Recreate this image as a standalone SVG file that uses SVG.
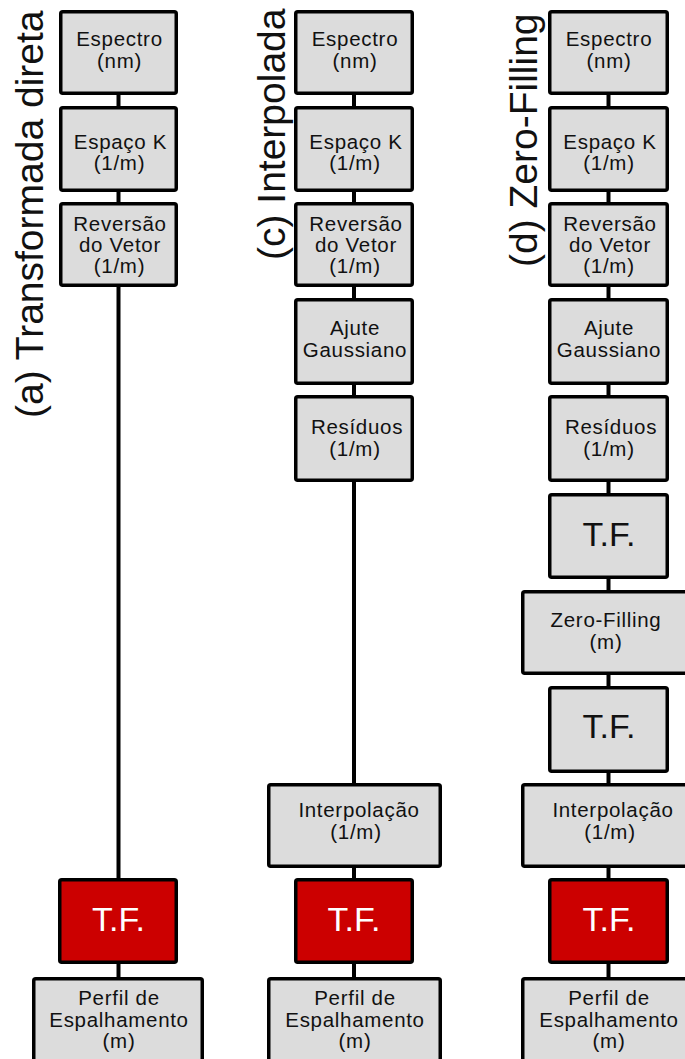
<svg xmlns="http://www.w3.org/2000/svg" width="685" height="1059" viewBox="0 0 685 1059">
<style>
.box{fill:#dcdcdc;stroke:#000;stroke-width:3.5}
.red{fill:#cc0000;stroke:#000;stroke-width:3.5}
.t{font-family:"Liberation Sans",Arial,sans-serif;font-size:20.5px;letter-spacing:0.7px;text-anchor:middle;fill:#111}
.tf{font-family:"Liberation Sans",Arial,sans-serif;font-size:34px;text-anchor:middle;fill:#111}
.tfw{font-family:"Liberation Sans",Arial,sans-serif;font-size:34px;text-anchor:middle;fill:#fff}
.title{font-family:"Liberation Sans",Arial,sans-serif;font-size:39px;fill:#111}
.c{stroke:#000;stroke-width:4;fill:none}
</style>
<rect width="685" height="1059" fill="#fff"/>
<g id="titles">
<text class="title" transform="translate(43,418) rotate(-90)">(a) Transformada direta</text>
<text class="title" transform="translate(285,260) rotate(-90)">(c) Interpolada</text>
<text class="title" transform="translate(537,267) rotate(-90)">(d) Zero-Filling</text>
</g>
<g id="connectors">
<line class="c" x1="118.5" y1="93" x2="118.5" y2="108"/>
<line class="c" x1="118.5" y1="190" x2="118.5" y2="204"/>
<line class="c" x1="118.5" y1="285" x2="118.5" y2="880"/>
<line class="c" x1="118.5" y1="962" x2="118.5" y2="979"/>
<line class="c" x1="354" y1="93" x2="354" y2="108"/>
<line class="c" x1="354" y1="190" x2="354" y2="204"/>
<line class="c" x1="354" y1="285" x2="354" y2="300"/>
<line class="c" x1="354" y1="383" x2="354" y2="397"/>
<line class="c" x1="354" y1="480" x2="354" y2="785"/>
<line class="c" x1="354" y1="866" x2="354" y2="880"/>
<line class="c" x1="354" y1="962" x2="354" y2="979"/>
<line class="c" x1="608.5" y1="93" x2="608.5" y2="108"/>
<line class="c" x1="608.5" y1="190" x2="608.5" y2="204"/>
<line class="c" x1="608.5" y1="285" x2="608.5" y2="300"/>
<line class="c" x1="608.5" y1="383" x2="608.5" y2="397"/>
<line class="c" x1="608.5" y1="480" x2="608.5" y2="495"/>
<line class="c" x1="608.5" y1="577" x2="608.5" y2="592"/>
<line class="c" x1="608.5" y1="673" x2="608.5" y2="688"/>
<line class="c" x1="608.5" y1="771" x2="608.5" y2="785"/>
<line class="c" x1="608.5" y1="866" x2="608.5" y2="880"/>
<line class="c" x1="608.5" y1="962" x2="608.5" y2="979"/>
</g>
<!-- Column a -->
<g id="a-espectro"><rect class="box" x="60.75" y="11.75" width="115.5" height="81.5" rx="2"/><text class="t" x="119.5" y="46">Espectro</text><text class="t" x="119.5" y="68">(nm)</text></g>
<g id="a-espacok"><rect class="box" x="60.75" y="107.75" width="115.5" height="82.5" rx="2"/><text class="t" x="120.5" y="149">Espaço K</text><text class="t" x="119.5" y="170">(1/m)</text></g>
<g id="a-reversao"><rect class="box" x="60.75" y="203.75" width="115.5" height="81.5" rx="2"/><text class="t" x="120" y="231">Reversão</text><text class="t" x="120" y="252">do Vetor</text><text class="t" x="119.5" y="273">(1/m)</text></g>
<g id="a-tf"><rect class="red" x="59.75" y="879.75" width="116.5" height="82.5" rx="2"/><text class="tfw" x="118.5" y="931">T.F.</text></g>
<g id="a-perfil"><rect class="box" x="33.75" y="978.75" width="168.5" height="90" rx="2"/><text class="t" x="119" y="1005">Perfil de</text><text class="t" x="119" y="1027">Espalhamento</text><text class="t" x="119" y="1048">(m)</text></g>
<!-- Column c -->
<g id="c-espectro"><rect class="box" x="295.75" y="11.75" width="116.5" height="81.5" rx="2"/><text class="t" x="355" y="46">Espectro</text><text class="t" x="355" y="68">(nm)</text></g>
<g id="c-espacok"><rect class="box" x="295.75" y="107.75" width="116.5" height="82.5" rx="2"/><text class="t" x="356" y="149">Espaço K</text><text class="t" x="355" y="170">(1/m)</text></g>
<g id="c-reversao"><rect class="box" x="295.75" y="203.75" width="116.5" height="81.5" rx="2"/><text class="t" x="356" y="231">Reversão</text><text class="t" x="356" y="252">do Vetor</text><text class="t" x="355" y="273">(1/m)</text></g>
<g id="c-ajute"><rect class="box" x="295.75" y="299.75" width="116.5" height="83.5" rx="2"/><text class="t" x="355" y="335">Ajute</text><text class="t" x="355" y="357">Gaussiano</text></g>
<g id="c-residuos"><rect class="box" x="295.75" y="396.75" width="116.5" height="83.5" rx="2"/><text class="t" x="357" y="434">Resíduos</text><text class="t" x="355" y="456">(1/m)</text></g>
<g id="c-interp"><rect class="box" x="268.75" y="784.75" width="171.5" height="81.5" rx="2"/><text class="t" x="359" y="817">Interpolação</text><text class="t" x="356" y="839">(1/m)</text></g>
<g id="c-tf"><rect class="red" x="295.75" y="879.75" width="116.5" height="82.5" rx="2"/><text class="tfw" x="354" y="931">T.F.</text></g>
<g id="c-perfil"><rect class="box" x="268.75" y="978.75" width="171.5" height="90" rx="2"/><text class="t" x="355" y="1005">Perfil de</text><text class="t" x="355" y="1027">Espalhamento</text><text class="t" x="355" y="1048">(m)</text></g>
<!-- Column d -->
<g id="d-espectro"><rect class="box" x="549.75" y="11.75" width="117.5" height="81.5" rx="2"/><text class="t" x="609" y="46">Espectro</text><text class="t" x="609" y="68">(nm)</text></g>
<g id="d-espacok"><rect class="box" x="549.75" y="107.75" width="117.5" height="82.5" rx="2"/><text class="t" x="610" y="149">Espaço K</text><text class="t" x="609" y="170">(1/m)</text></g>
<g id="d-reversao"><rect class="box" x="549.75" y="203.75" width="117.5" height="81.5" rx="2"/><text class="t" x="610" y="231">Reversão</text><text class="t" x="610" y="252">do Vetor</text><text class="t" x="609" y="273">(1/m)</text></g>
<g id="d-ajute"><rect class="box" x="549.75" y="299.75" width="117.5" height="83.5" rx="2"/><text class="t" x="609" y="335">Ajute</text><text class="t" x="609" y="357">Gaussiano</text></g>
<g id="d-residuos"><rect class="box" x="549.75" y="396.75" width="117.5" height="83.5" rx="2"/><text class="t" x="611" y="434">Resíduos</text><text class="t" x="609" y="456">(1/m)</text></g>
<g id="d-tf1"><rect class="box" x="549.75" y="494.75" width="117.5" height="82.5" rx="2"/><text class="tf" x="609" y="546">T.F.</text></g>
<g id="d-zerofilling"><rect class="box" x="522.75" y="591.75" width="171.5" height="81.5" rx="2"/><text class="t" x="606" y="627">Zero-Filling</text><text class="t" x="606" y="649">(m)</text></g>
<g id="d-tf2"><rect class="box" x="549.75" y="687.75" width="117.5" height="83.5" rx="2"/><text class="tf" x="609" y="738">T.F.</text></g>
<g id="d-interp"><rect class="box" x="522.75" y="784.75" width="171.5" height="81.5" rx="2"/><text class="t" x="613" y="817">Interpolação</text><text class="t" x="610" y="839">(1/m)</text></g>
<g id="d-tf3"><rect class="red" x="549.75" y="879.75" width="117.5" height="82.5" rx="2"/><text class="tfw" x="609" y="931">T.F.</text></g>
<g id="d-perfil"><rect class="box" x="522.75" y="978.75" width="171.5" height="90" rx="2"/><text class="t" x="609" y="1005">Perfil de</text><text class="t" x="609" y="1027">Espalhamento</text><text class="t" x="609" y="1048">(m)</text></g>
</svg>
